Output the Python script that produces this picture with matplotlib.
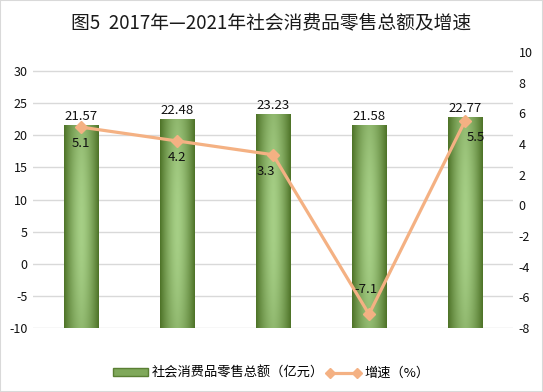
import matplotlib.pyplot as plt
import matplotlib.patches as mpatches
import matplotlib.lines as mlines
import numpy as np

plt.rcParams['font.family'] = ['Noto Sans CJK SC', 'DejaVu Sans']
plt.rcParams['axes.unicode_minus'] = False

years = ['2017年', '2018年', '2019年', '2020年', '2021年']
sales = [21.57, 22.48, 23.23, 21.58, 22.77]
growth = [5.1, 4.2, 3.3, -7.1, 5.5]
# offsets for growth labels in points (dx, dy)
growth_label_offsets = [(0, -12), (0, -12), (-5, -12), (-2, 18), (8, -12)]

fig = plt.figure(figsize=(5.43, 3.92), dpi=100)
fig.patches.append(mpatches.Rectangle((0, 0), 1, 1, transform=fig.transFigure,
                                      fill=False, edgecolor='#d9d9d9', lw=1.5))
fig.text(0.5, 0.943, '图5  2017年—2021年社会消费品零售总额及增速', ha='center', va='center',
         fontsize=13.5, color='#1a1a1a')

ax2 = fig.add_axes([33 / 543, 64 / 392, 480 / 543, 276 / 392])
ax = ax2.twinx()
# left axis on the left side, right axis on right
ax.yaxis.tick_left()
ax2.yaxis.tick_right()
ax.set_zorder(1)
ax2.set_zorder(2)
ax2.patch.set_visible(False)

x = np.arange(len(years))
bw = 0.355
dark = np.array([0x4e, 0x73, 0x28]) / 255
light = np.array([0xa6, 0xcf, 0x86]) / 255
nx, ny = 60, 100
xx = np.linspace(0, 1, nx)
yy = np.linspace(0, 1, ny)
hprof = 1 - np.abs(2 * xx - 1) ** 1.6
vprof = 0.55 + 0.45 * np.sin(np.pi * (0.15 + 0.7 * yy))
t = np.outer(vprof, hprof)
img = dark[None, None, :] * (1 - t[:, :, None]) + light[None, None, :] * t[:, :, None]

bars = ax.bar(x, np.array(sales) + 10, bottom=-10, width=bw, color='none', edgecolor='none')
for b, v in zip(bars, sales):
    x0, y0, w, h = b.get_x(), b.get_y(), b.get_width(), b.get_height()
    im = ax.imshow(img, extent=[x0, x0 + w, y0, y0 + h], origin='upper', aspect='auto', zorder=2)
    im.set_clip_path(b)
    ax.text(x0 + w / 2, y0 + h + 0.4, f'{v:.2f}', ha='center', va='bottom', fontsize=9.5, color='#111111')

ax.set_xlim(-0.5, len(years) - 0.5)
ax.set_ylim(-10, -10 + 276 / 257 * 40)
ax.set_yticks(range(-10, 31, 5))
ax.grid(axis='y', color='#d9d9d9', lw=1)
ax.set_axisbelow(True)

line_color = '#f4b183'
ax2.plot(x, growth, color=line_color, lw=2.3, marker='D', ms=6, mfc=line_color, mec=line_color)
for xi, g, (dx, dy) in zip(x, growth, growth_label_offsets):
    ax2.annotate(f'{g}', (xi, g), xytext=(dx, dy), textcoords='offset points',
                 ha='center', va='center', fontsize=9.5, color='#111111')
ax2.set_ylim(-8, 10)
ax2.set_yticks(range(-8, 11, 2))
ax2.set_xticks(x)
ax2.set_xticklabels(years)
ax.set_xticks(x)
ax.set_xticklabels([])

for a in (ax, ax2):
    for s in a.spines.values():
        s.set_visible(False)
    a.tick_params(length=0, labelsize=9, colors='#111111')
ax2.tick_params(axis='x', pad=8)
ax2.tick_params(axis='y', pad=4)
ax.tick_params(axis='y', pad=4)

bar_handle = mpatches.Patch(facecolor='#7fa85a', edgecolor='#5a7f33')
line_handle = mlines.Line2D([], [], color=line_color, lw=2.3, marker='D', ms=5, mfc=line_color, mec=line_color)
fig.legend([bar_handle, line_handle], ['社会消费品零售总额（亿元）', '增速（%）'],
           loc='center', bbox_to_anchor=(0.5, 0.048), ncol=2, frameon=False, fontsize=9.5,
           handlelength=2.6, handleheight=0.5, columnspacing=0.2, handletextpad=0.3, numpoints=2)

fig.savefig('out.png', dpi=100)
